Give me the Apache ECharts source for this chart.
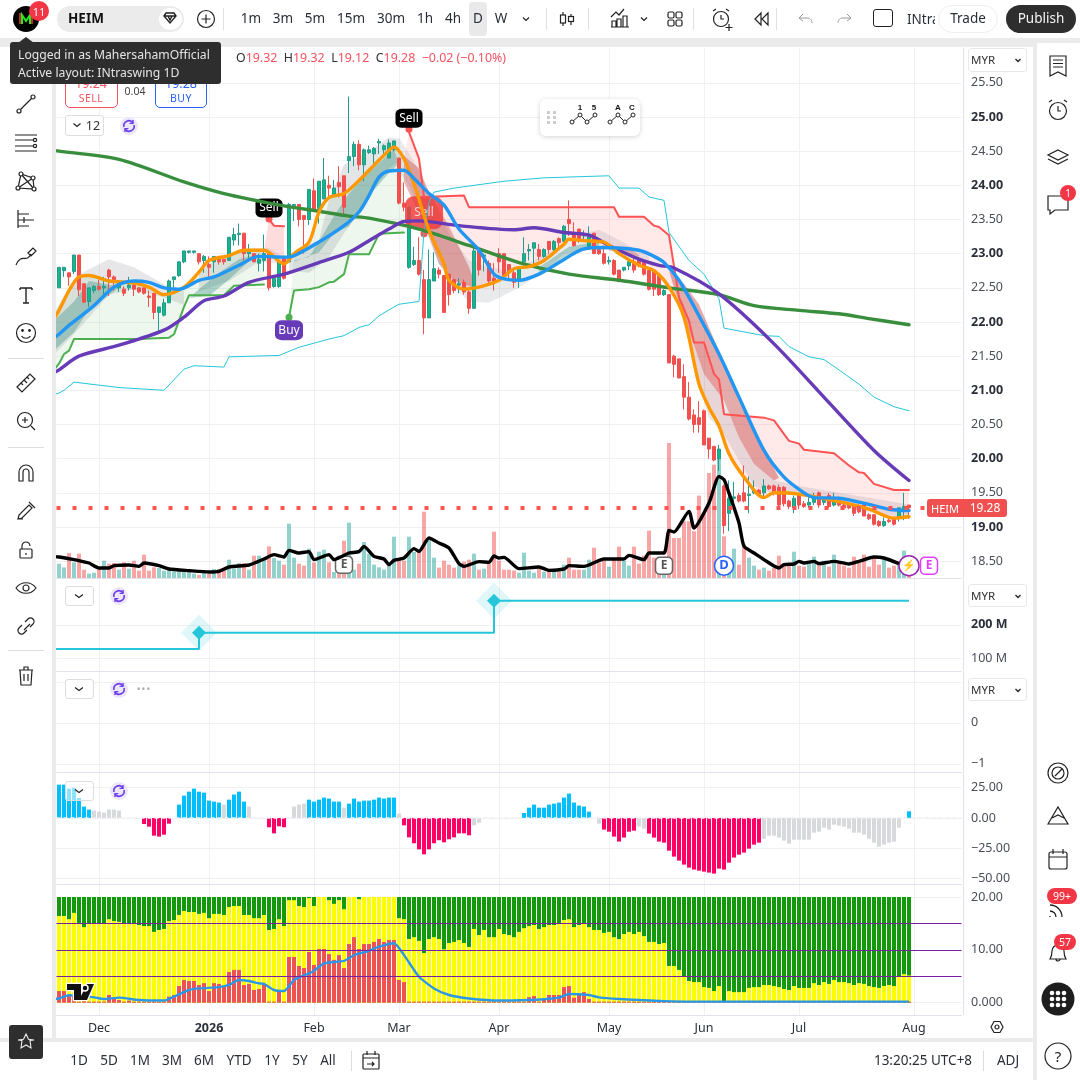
<!DOCTYPE html>
<html><head><meta charset="utf-8">
<script src="https://cdn.jsdelivr.net/npm/echarts@6/dist/echarts.min.js"></script>
<style>
html,body{margin:0;padding:0;width:1080px;height:1080px;overflow:hidden;background:#ebebeb;font-family:"Noto Sans",sans-serif;color:#1f2430}
.p{position:absolute;background:#fff}
#chart{position:absolute;left:0;top:0;width:1080px;height:1080px;z-index:1}
#ui{position:absolute;left:0;top:0;width:1080px;height:1080px;z-index:2}
.t{position:absolute;transform:translate(-50%,-50%);white-space:nowrap;line-height:1}
.l{position:absolute;transform:translateY(-50%);white-space:nowrap;line-height:1}
.b{position:absolute;box-sizing:border-box}
svg{position:absolute;overflow:visible}
</style></head><body>
<div class="p" style="left:0;top:0;width:1080px;height:38px"></div>
<div class="p" style="left:0;top:47px;width:52px;height:991px"></div>
<div class="p" style="left:56px;top:47px;width:977px;height:991px"></div>
<div class="p" style="left:1037px;top:43px;width:43px;height:1037px"></div>
<div class="p" style="left:0;top:1042px;width:1033px;height:38px"></div>
<div id="chart"></div><div id="ui"></div>
<script>
// ---------- axis ticks ----------
const barCount = 181;
const monthTicks = {8:'Dec',30:'2026',51:'Feb',68:'Mar',88:'Apr',110:'May',129:'Jun',148:'Jul',171:'Aug'};
const priceTicks = [18.5,19,19.5,20,20.5,21,21.5,22,22.5,23,23.5,24,24.5,25,25.5];
const panel2Ticks = [100,200];
const panel3Ticks = [-1,0,1];
const panel4Ticks = [-50,-25,0,25];
const panel5Ticks = [0,10,20];
const panel5Levels = [5,10,15];
const currentPrice = 19.28;

// ---------- daily candles: open, high, low, close ----------
const ohlc = [
[22.50,22.80,22.50,22.80],[22.75,22.80,22.66,22.80],[22.72,22.72,22.53,22.66],[22.74,22.98,22.70,22.98],[22.98,22.98,22.38,22.47],
[22.56,22.56,22.28,22.29],[22.30,22.50,22.22,22.50],[22.46,22.54,22.42,22.52],[22.52,22.62,22.46,22.48],[22.50,22.66,22.38,22.52],
[22.76,22.78,22.38,22.66],[22.66,22.68,22.46,22.58],[22.50,22.60,22.44,22.58],[22.48,22.52,22.38,22.42],[22.50,22.66,22.46,22.54],
[22.54,22.58,22.38,22.48],[22.50,22.50,22.42,22.44],[22.50,22.50,22.40,22.42],[22.38,22.46,22.22,22.36],[22.42,22.42,22.04,22.14],
[22.14,22.22,21.86,22.22],[22.10,22.34,22.08,22.28],[22.28,22.62,22.28,22.60],[22.62,22.66,22.46,22.66],[22.68,22.88,22.66,22.88],
[22.88,23.04,22.86,23.04],[23.02,23.04,23.00,23.04],[23.02,23.04,23.00,23.04],[23.00,23.00,22.84,22.88],[22.90,22.98,22.72,22.96],
[22.84,22.96,22.66,22.80],[22.88,22.96,22.72,22.96],[22.96,22.96,22.84,22.88],[22.92,22.92,22.84,22.88],[22.90,23.24,22.90,23.24],
[23.20,23.38,23.12,23.28],[23.28,23.44,23.12,23.30],[23.30,23.30,22.90,23.00],[23.00,23.14,22.92,23.04],[23.00,23.00,22.88,22.88],
[22.86,23.00,22.74,22.92],[22.90,23.28,22.74,23.00],[23.00,23.00,22.46,22.50],[22.52,22.66,22.50,22.64],[22.52,22.88,22.50,22.88],
[22.96,22.96,22.62,22.64],[22.88,23.74,22.88,23.72],[23.70,23.72,23.48,23.72],[23.72,23.72,23.40,23.50],[23.56,23.56,23.00,23.50],
[23.50,23.94,23.42,23.94],[23.92,24.10,23.62,23.64],[23.66,24.06,23.44,24.06],[23.80,24.40,23.80,24.08],[24.00,24.14,23.84,23.96],
[23.84,24.08,23.84,23.96],[24.04,24.28,23.82,23.98],[24.14,24.14,23.58,23.68],[24.36,25.30,24.18,24.42],[24.42,24.64,24.28,24.60],
[24.60,24.66,24.22,24.30],[24.30,24.54,24.06,24.52],[24.48,24.58,24.46,24.52],[24.46,24.56,24.32,24.54],[24.62,24.68,24.46,24.64],
[24.52,24.60,24.46,24.58],[24.40,24.67,24.40,24.62],[24.52,24.65,24.50,24.65],[24.40,24.40,23.72,23.74],[23.74,24.04,23.62,23.68],
[22.80,23.68,22.78,23.68],[22.84,23.10,22.82,22.90],[22.90,23.24,22.68,22.70],[22.62,22.76,21.82,22.06],[22.06,23.06,22.06,22.62],
[22.60,23.02,22.60,22.78],[22.76,22.80,22.64,22.70],[22.68,22.68,22.14,22.14],[22.70,22.70,22.24,22.40],[22.62,22.62,22.42,22.46],
[22.54,22.64,22.42,22.56],[22.58,22.62,22.40,22.44],[22.44,22.50,22.12,22.20],[22.20,23.14,22.20,23.04],[23.04,23.10,22.68,22.76],
[22.96,23.00,22.74,22.98],[22.86,22.90,22.56,22.60],[22.64,22.86,22.46,22.60],[23.00,23.08,22.72,22.88],[23.00,23.00,22.66,22.68],
[22.84,22.84,22.62,22.72],[22.72,22.76,22.50,22.58],[22.60,22.82,22.50,22.80],[22.88,23.24,22.84,23.00],[23.04,23.14,22.90,23.06],
[23.08,23.16,22.84,23.16],[23.06,23.14,22.90,22.96],[22.96,23.08,22.94,23.06],[23.18,23.18,23.00,23.06],[23.06,23.20,23.04,23.18],
[23.22,23.24,23.08,23.16],[23.18,23.42,23.12,23.40],[23.50,23.78,23.26,23.44],[23.30,23.46,23.10,23.12],[23.36,23.36,23.16,23.20],
[23.26,23.34,23.20,23.28],[23.10,23.40,23.08,23.28],[23.30,23.30,23.00,23.00],[23.06,23.06,22.98,23.00],[23.00,23.12,22.84,22.86],
[22.88,22.96,22.84,22.90],[22.90,22.92,22.68,22.70],[22.76,22.76,22.58,22.60],[22.76,22.80,22.74,22.80],[22.82,22.92,22.76,22.88],
[22.88,22.96,22.72,22.76],[22.92,22.94,22.80,22.82],[22.88,22.90,22.68,22.70],[22.76,22.76,22.46,22.48],[22.76,22.76,22.38,22.48],
[22.68,22.68,22.38,22.40],[22.40,22.48,22.38,22.46],[22.40,22.40,21.40,21.40],[21.50,21.52,21.19,21.38],[21.46,21.46,21.18,21.18],
[21.20,21.38,20.72,20.90],[20.90,21.12,20.56,20.58],[20.64,20.72,20.38,20.50],[20.60,20.84,20.38,20.50],[20.70,20.72,20.20,20.20],
[20.30,20.30,20.00,20.14],[20.18,20.18,19.96,19.98],[20.00,20.20,19.82,20.14],[19.60,19.62,18.90,19.02],[19.20,19.68,18.94,19.42],
[19.42,19.66,19.36,19.44],[19.46,19.50,19.36,19.38],[19.50,19.90,19.36,19.38],[19.46,19.74,19.20,19.48],[19.50,19.68,19.48,19.54],
[19.54,19.56,19.44,19.48],[19.50,19.70,19.44,19.60],[19.60,19.62,19.54,19.56],[19.60,19.62,19.46,19.50],[19.58,19.62,19.28,19.32],
[19.58,19.60,19.30,19.34],[19.38,19.40,19.26,19.30],[19.28,19.46,19.20,19.42],[19.48,19.50,19.26,19.32],[19.34,19.38,19.28,19.30],
[19.32,19.44,19.28,19.36],[19.36,19.50,19.32,19.44],[19.50,19.52,19.28,19.32],[19.36,19.44,19.32,19.40],[19.46,19.50,19.28,19.30],
[19.32,19.50,19.30,19.42],[19.42,19.44,19.30,19.32],[19.32,19.34,19.26,19.28],[19.34,19.36,19.26,19.28],[19.32,19.34,19.16,19.20],
[19.30,19.34,19.20,19.22],[19.32,19.34,19.16,19.16],[19.18,19.20,19.10,19.12],[19.18,19.18,19.02,19.04],[19.08,19.10,19.00,19.02],
[19.02,19.14,19.00,19.08],[19.10,19.12,19.06,19.08],[19.12,19.14,19.02,19.04],[19.14,19.28,19.08,19.28],[19.24,19.50,19.10,19.30],
[19.32,19.32,19.12,19.28]];

// ---------- volume and its average (arbitrary units) ----------
const volume = [43,32,75,47,73,25,13,16,27,52,43,45,25,47,28,52,22,70,22,32,30,22,25,20,20,25,25,13,9,15,13,27,27,25,55,29,45,45,25,67,67,57,95,60,52,40,163,61,43,37,88,47,79,85,47,18,15,112,166,25,43,108,73,40,32,25,40,124,52,52,124,78,78,199,115,61,31,52,40,31,37,49,55,73,25,28,43,139,52,25,25,22,16,76,22,16,27,19,19,19,19,40,61,25,25,25,55,91,46,52,34,58,94,52,37,94,43,67,142,61,46,15,405,120,120,170,170,140,247,195,315,340,384,125,31,88,40,100,61,37,25,31,22,31,67,43,37,79,37,34,46,64,46,52,34,70,43,37,31,64,46,70,34,61,40,61,31,37,43,82,7];
const volumeAverage = [[-1,64],[0,63],[3,55],[4,52],[6,45],[8,30],[10,30],[11,37],[14,39],[16,35],[17,45],[20,37],[22,27],[26,22],[30,18],[32,20],[34,33],[38,39],[41,57],[43,70],[45,63],[46,83],[48,75],[50,79],[51,55],[54,70],[55,55],[58,75],[60,79],[61,95],[63,65],[65,57],[66,40],[67,53],[69,60],[71,88],[72,80],[74,120],[76,105],[78,90],[80,43],[81,35],[84,49],[86,47],[87,66],[88,60],[89,62],[92,28],[96,33],[98,23],[101,27],[102,37],[105,35],[109,57],[113,57],[114,68],[117,55],[118,75],[121,75],[122,143],[123,138],[126,200],[127,150],[130,225],[132,305],[133,295],[134,255],[136,165],[137,95],[139,75],[141,55],[144,30],[145,40],[147,42],[148,50],[149,45],[151,50],[152,43],[155,50],[158,42],[160,50],[163,63],[165,60],[168,43]];

// ---------- moving averages, price units ----------
const maLong = [[-1,24.51],[0,24.50],[12,24.38],[25,24.05],[33,23.88],[45,23.70],[52,23.62],[58,23.55],[62,23.52],[72,23.36],[82,23.12],[92,22.87],[102,22.70],[112,22.61],[122,22.50],[132,22.40],[139,22.24],[148,22.17],[156,22.12],[162,22.05],[170,21.96]];
const maMid = [[-1,21.26],[0,21.30],[4,21.50],[12,21.66],[21,21.88],[25,22.07],[29,22.31],[33,22.38],[38,22.58],[45,22.70],[52,22.87],[58,23.02],[62,23.19],[66,23.36],[69,23.47],[72,23.48],[80,23.41],[91,23.35],[95,23.38],[101,23.31],[106,23.27],[110,23.12],[116,22.92],[120,22.83],[123,22.79],[132,22.41],[143,21.68],[154,20.82],[163,20.12],[170,19.68]];
const emaFast = [[-1,22.05],[0,22.17],[2,22.46],[4,22.66],[6,22.68],[10,22.60],[15,22.57],[18,22.51],[21,22.40],[25,22.51],[28,22.73],[30,22.90],[34,22.97],[37,23.05],[41,23.05],[45,22.85],[47,23.00],[50,23.17],[52,23.61],[54,23.82],[57,23.88],[60,24.07],[62,24.22],[65,24.44],[67,24.56],[69,24.39],[71,24.02],[74,23.34],[77,22.85],[78,22.61],[81,22.48],[84,22.51],[88,22.61],[91,22.78],[94,22.81],[97,22.90],[101,23.14],[102,23.21],[105,23.19],[109,23.17],[112,23.00],[116,22.83],[119,22.75],[122,22.51],[125,22.07],[128,21.09],[130,20.75],[132,20.48],[134,20.07],[137,19.73],[141,19.43],[143,19.50],[148,19.48],[156,19.37],[162,19.26],[167,19.13],[170,19.15]];
const emaSlow = [[-1,21.77],[0,21.82],[2,21.95],[7,22.24],[11,22.51],[15,22.60],[18,22.58],[21,22.50],[24,22.48],[28,22.61],[31,22.66],[36,22.83],[40,22.96],[45,22.95],[47,22.97],[52,23.17],[57,23.41],[60,23.61],[62,23.85],[64,24.12],[66,24.21],[69,24.22],[71,24.10],[74,23.88],[77,23.71],[80,23.36],[84,23.05],[87,22.70],[89,22.63],[92,22.61],[96,22.70],[100,22.87],[105,23.07],[109,23.09],[116,23.05],[119,22.96],[121,22.87],[124,22.61],[128,22.09],[132,21.53],[136,20.90],[141,20.12],[145,19.73],[149,19.50],[151,19.43],[156,19.42],[162,19.33],[166,19.26],[170,19.24]];
const channelLine = [[-1,20.94],[0,20.96],[1,21.00],[3,21.12],[12,21.04],[21,21.00],[25,21.31],[27,21.36],[33,21.34],[34,21.49],[44,21.51],[48,21.63],[54,21.75],[57,21.80],[60,21.92],[62,21.96],[64,22.09],[67,22.22],[68,22.26],[72,22.30],[73,23.34],[74,23.75],[75,23.90],[79,23.96],[89,24.06],[97,24.11],[110,24.14],[112,23.96],[116,23.96],[118,23.83],[121,23.78],[122,23.31],[126,22.90],[129,22.70],[132,22.34],[133,21.91],[141,21.80],[144,21.79],[146,21.64],[150,21.49],[153,21.45],[155,21.35],[160,21.09],[163,20.90],[167,20.76],[170,20.70]];

// ---------- trailing stop segments ----------
const trailUpA = [[-1,21.30],[0,21.39],[1,21.53],[2,21.58],[3,21.75],[16,21.75],[22,21.77],[23,21.82],[25,22.22],[26,22.39],[33,22.39],[35,22.53],[41,22.55]];
const trailUpB = [[46,22.07],[47,22.46],[50,22.48],[52,22.51],[54,22.58],[55,22.59],[57,22.70],[58,22.99],[62,22.99],[64,23.29],[69,23.31]];
const trailDownA = [[42,23.50],[43,23.41],[45,23.40]];
const trailDownB = [[70,24.78],[72,24.39],[73,23.83],[81,23.85],[82,23.68],[111,23.68],[112,23.54],[117,23.54],[119,23.41],[120,23.39],[122,23.27],[124,22.36],[126,22.02],[127,21.70],[129,21.70],[131,21.24],[132,21.16],[133,20.65],[141,20.60],[143,20.56],[146,20.26],[148,20.22],[149,20.13],[155,20.08],[158,19.90],[160,19.80],[161,19.79],[163,19.63],[167,19.54],[170,19.54]];

// ---------- ribbons, upper and lower edges ----------
const haloAUp=[[-1,22.15],[4,22.70],[10,22.92],[15,22.80],[21,22.55],[25,22.45]], haloALow=[[-1,21.52],[4,21.90],[10,22.40],[15,22.48],[21,22.36],[25,22.25]];
const haloBUp=[[28,22.70],[30,22.85],[38,23.08],[42,23.08],[46,22.90]], haloBLow=[[28,22.45],[34,22.60],[40,22.88],[46,22.85]];
const haloCUp=[[46,23.00],[52,23.20],[54,23.78],[57,24.30],[62,24.50],[66,24.70],[68,24.68]], haloCLow=[[46,22.75],[50,22.72],[54,22.95],[57,23.30],[60,23.60],[62,23.85],[66,24.25],[68,24.35]];
const haloDUp=[[68,24.70],[71,24.35],[74,23.90],[78,23.30],[82,22.90],[86,22.80],[90,22.75],[95,22.90],[100,23.10],[105,23.30],[108,23.35],[112,23.20],[118,22.95]], haloDLow=[[68,24.20],[70,24.00],[73,23.40],[76,22.85],[79,22.50],[82,22.30],[86,22.28],[92,22.50],[97,22.75],[101,23.00],[105,23.05],[110,23.05],[118,22.85]];
const haloEUp=[[123,22.50],[126,21.87],[129,21.24],[133,20.85],[136,20.31],[139,19.92],[143,19.68],[148,19.60],[156,19.50],[170,19.33]], haloELow=[[123,22.40],[125,22.26],[127,21.32],[130,20.60],[133,20.36],[136,19.97],[139,19.60],[143,19.48],[148,19.47],[156,19.31],[162,19.21],[170,19.14]];
const tealAUp=[[-1,22.02],[3,22.30],[6,22.60],[12,22.52]], tealALow=[[-1,21.58],[3,21.85],[6,22.18],[12,22.50]];
const tealBUp=[[28,22.48],[32,22.72],[36,22.92],[39,22.98]], tealBLow=[[26,22.35],[30,22.38],[34,22.62],[39,22.96]];
const tealCUp=[[47,22.90],[50,22.95],[52,23.18],[55,23.55],[58,23.88],[62,24.20],[67,24.52]], tealCLow=[[47,22.88],[52,23.02],[55,23.30],[58,23.40],[62,23.85],[66,24.18],[68,24.32]];
const tealDUp=[[96,22.80],[102,23.10],[108,23.18]], tealDLow=[[96,22.70],[102,22.98],[108,23.10]];
const rustAUp=[[69,24.43],[72,24.25],[74,23.90],[78,23.40],[80,23.10],[82,22.80],[83,22.60]], rustALow=[[69,24.05],[72,23.58],[74,23.25],[76,22.85],[79,22.60],[83,22.50]];
const rustBUp=[[110,23.10],[114,23.08],[116,22.98]], rustBLow=[[110,23.05],[116,22.95]];
const rustCUp=[[122,22.75],[125,22.56],[128,22.26],[132,21.58],[136,20.90],[141,20.12],[144,19.72]], rustCLow=[[123,22.50],[126,21.87],[129,21.24],[133,20.85],[136,20.31],[139,19.92],[143,19.68]];

// ---------- panel 2: step level (millions) ----------
const stepLevel = [[-1,127],[28,176],[87,273],[170,273]];
const stepTurns = [[28,176],[87,273]];

// ---------- panel 4: momentum histogram ----------
const momentum = [27.5,27.5,24.2,24.8,16.5,9.4,6.9,6.1,5.2,4.4,6.9,6.9,6.1,0,0,0,0,-5.0,-7.2,-14.6,-15.4,-13.8,-4.7,0,
11.0,18.4,21.7,24.2,21.7,20.9,14.3,13.5,12.7,11.0,15.1,19.3,21.7,13.5,9.4,0,0,0,
-7.7,-12.7,-6.9,-7.7,0,
9.4,11.0,11.8,15.1,13.5,15.1,16.8,16.0,13.5,13.5,8.5,11.8,16.0,13.5,14.3,14.3,15.1,16.8,16.0,16.8,16.8,3.6,
-6.1,-16.0,-20.9,-25.9,-30.0,-25.9,-20.9,-18.4,-20.1,-17.6,-16.0,-12.7,-12.7,-14.3,-6.1,-3.9,
0,0,0,0,0,0,0,0,
4.1,8.5,11.0,8.5,8.5,11.0,11.8,12.7,16.8,20.1,12.7,10.2,9.4,5.2,0,
-4.7,-9.6,-11.3,-15.4,-19.5,-16.2,-11.3,-10.5,-7.2,-8.8,-12.9,-16.2,-19.5,-20.4,-27.0,-31.9,-35.2,-38.5,-41.0,-42.6,-43.5,-44.3,-45.1,-45.9,-41.8,-42.6,-36.9,-32.7,-30.3,-28.6,-25.3,-22.0,-20.4,
-17.1,-14.6,-14.6,-16.2,-18.7,-21.2,-17.9,-17.9,-17.9,-17.9,-12.1,-11.3,-8.0,-9.6,-5.5,-6.3,-7.2,-8.8,-12.1,-12.1,-13.8,-17.1,-20.4,-23.7,-22.0,-20.4,-19.5,-8.0,0,5.5];
const momentumWeak = [7,8,9,10,11,12,33,38,47,48,49,57,68,83,84,108,116,117,141,142,143,144,145,146,147,148,149,150,151,152,153,154,155,156,157,158,159,160,161,162,163,164,165,166,167,168];

// ---------- panel 5: stacked zones and oscillator line ----------
const zoneYellowTop = [16.4,16.4,15.8,17.0,15.0,14.3,15.0,15.0,15.0,15.0,15.8,15.45,15.3,15.0,15.0,15.0,14.7,14.5,14.5,13.4,13.75,13.95,15.45,15.65,16.6,17.35,17.15,17.15,16.8,17.0,16.0,16.8,16.8,16.6,18.1,18.3,18.3,16.6,16.6,16.0,16.0,16.6,13.75,13.95,15.8,14.5,19.4,19.4,18.3,18.1,19.8,18.3,20,20,19.4,18.7,19.4,17.7,20,20,19.6,20,20,20,20,20,20,20,16.0,15.8,12.05,12.4,11.7,9.4,12.05,12.4,12.05,10.1,11.3,11.5,11.85,11.3,10.55,13.95,12.8,13.75,12.4,12.4,13.95,13.0,12.8,12.4,13.4,14.1,14.5,14.7,13.95,14.3,14.7,14.7,15.0,15.65,15.8,14.3,14.7,15.0,14.3,13.75,13.75,13.2,13.4,12.4,12.05,13.0,13.4,13.0,13.4,12.6,11.5,11.5,11.1,11.3,6.95,6.95,6.2,5.05,4.1,3.9,3.9,2.95,2.8,2.2,3.15,0.3,2.2,2.0,2.0,2.0,2.8,2.95,2.95,3.35,3.35,3.15,2.95,2.6,2.4,3.15,2.8,2.8,2.8,3.7,3.35,3.9,3.55,4.3,3.9,3.9,3.7,3.35,3.7,3.55,3.15,2.95,2.8,3.15,3.35,3.15,5.05,5.4,5.15];
const zoneRedTop = [2.2,2.2,1.45,1.25,.2,.5,.2,.2,.2,.2,1.45,.8,.5,.2,.4,.2,.2,.2,.2,.2,.2,.2,1.15,1.45,3.15,4.3,4.1,4.1,3.35,3.7,2.2,3.7,3.55,3.15,5.8,6.2,6.2,3.35,3.55,2.4,2.6,3.35,.2,.2,2.2,.2,8.65,8.65,6.95,6.55,9.6,7.15,10.15,10.15,9.2,8.1,9.0,6.55,11.1,12.4,10.15,11.1,11.1,11.5,12.05,11.5,11.85,11.85,4.3,3.9,.2,.2,.2,.2,.2,.2,.2,.2,.2,.2,.2,.2,.2,.2,.2,.2,.2,.2,.2,.2,.2,.2,.2,.2,1.05,1.25,.2,.5,1.45,1.45,1.45,2.95,3.15,.95,1.45,2.0,.7,.2,.2,.2,.2,.2,.2,.2,.2,.2,.2,.2,.2,.2,.2,.2,.2,.2,.2,.2,.2,.2,.2,.2,.2,.2,.2,.2,.2,.2,.2,.2,.2,.2,.2,.2,.2,.2,.2,.2,.2,.2,.2,.2,.2,.2,.2,.2,.2,.2,.2,.2,.2,.2,.2,.2,.2,.2,.2,.2,.2,.2,.2,.2,.2];
const zoneGreenTop = ohlc.map(() => 20);
const oscillator = [[-1,.75],[0,.8],[2,1.4],[7,1.0],[9,.7],[12,.95],[16,.5],[21,.4],[23,1.15],[26,2.4],[28,2.7],[32,2.95],[34,3.35],[36,4.3],[38,4.1],[40,3.65],[41,3.55],[43,2.4],[45,2.2],[47,4.3],[50,5.55],[51,6.05],[53,7.45],[57,7.9],[59,9.0],[62,9.8],[64,10.6],[67,11.25],[69,9.0],[72,4.9],[75,2.7],[78,1.45],[82,.8],[88,.4],[94,.5],[97,.65],[100,.95],[102,1.65],[106,1.45],[108,1.0],[112,.7],[121,.3],[130,.2],[170,.2]];

// ---------- signal markers ----------
const sellBlack = [[42,23.507],[70,24.82]];
const sellRed = [[73,23.29]];
const buyMark = [[46,22.07]];
const earningsMarks = [[57,40],[121,37]];
const dividendMarks = [[133,37]];
const newsMarks = [[170,37]];
const nextEarnings = [[174,37]];

// ---------- chart ----------
const FONT = '"Noto Sans",sans-serif';
const categories = Array.from({length: barCount}, (_, i) => String(i));
const GRIDC = '#f0f1f4', EDGE = '#e0e3eb';
const grids = [[48,530],[579,92],[672,100],[773,111],[885,130]].map(g => ({left:56.5, width:905, top:g[0], height:g[1]}));
const xAxes = grids.map((g, k) => ({
  type:'category', gridIndex:k, data:categories, boundaryGap:true,
  axisLine:{show:true, onZero:false, lineStyle:{color:EDGE}}, axisTick:{show:false},
  splitLine:{show:true, alignWithLabel:true, interval:(i)=> i in monthTicks, lineStyle:{color:GRIDC}},
  axisLabel: k === 4 ? {show:true, interval:(i)=> i in monthTicks, margin:7, color:'#2a2e39', fontSize:12.5, fontFamily:FONT,
    formatter:(v)=> monthTicks[v]==='2026' ? '{b|2026}' : (monthTicks[v]||''), rich:{b:{fontWeight:'bold',fontSize:12.5,color:'#2a2e39',fontFamily:FONT}}} : {show:false}
}));
function yAxis(k, min, max, ticks, fmt){
  return {type:'value', gridIndex:k, position:'right', offset:1.5, min, max, scale:true,
    axisLine:{show:true, lineStyle:{color:EDGE}}, axisTick:{show:false, customValues:ticks},
    axisLabel:{show:true, customValues:ticks, formatter:fmt, margin:8, color:'#4a4e59', fontSize:12.5, fontFamily:FONT, hideOverlap:false, showMinLabel:true, showMaxLabel:true,
      rich:{b:{fontWeight:'bold',fontSize:12.5,color:'#2a2e39',fontFamily:FONT}}},
    splitLine:{show:true, lineStyle:{color:GRIDC}}};
}
const minus = s => s.replace('-', '\u2212');
const yAxes = [
  yAxis(0, 18.253, 26.01, priceTicks, v => v % 1 === 0 ? '{b|' + v.toFixed(2) + '}' : v.toFixed(2)),
  yAxis(1, 60.6, 339, panel2Ticks, v => v === 200 ? '{b|200 M}' : v + ' M'),
  yAxis(2, -1.2, 1.24, panel3Ticks, v => v === 1 ? '' : minus(String(v))),
  yAxis(3, -54.5, 37.1, panel4Ticks, v => minus(v.toFixed(2))),
  yAxis(4, -2.33, 22.27, panel5Ticks, v => v === 0 ? '0.000' : v.toFixed(2)),
  {type:'value', gridIndex:0, min:0, max:1590, show:false}
];
const between = (k, a, b) => k.filter(p => p[0] >= a && p[0] <= b);
function band(up, low, color){
  return {type:'custom', xAxisIndex:0, yAxisIndex:0, silent:true, clip:true, data:[[Math.max(up[0][0],0), up[0][1]]],
    renderItem:(params, api) => ({type:'polygon',
      shape:{points: up.map(p => api.coord(p)).concat(low.slice().reverse().map(p => api.coord(p)))},
      style:{fill:color, stroke:'none'}})};
}
function line(data, color, width, extra){
  return Object.assign({type:'line', xAxisIndex:0, yAxisIndex:0, data, showSymbol:false, symbol:'none', silent:true,
    lineStyle:{color, width, cap:'round', join:'round'}, itemStyle:{color}}, extra||{});
}
function mark(data, yIdx, symbol, size, fill, text, textColor, opt){
  opt = opt || {};
  return {type:'scatter', xAxisIndex:0, yAxisIndex:yIdx, data, symbol, symbolSize:size, symbolOffset:opt.offset||[0,0], silent:true,
    itemStyle:{color:fill, opacity:1, borderColor:opt.border, borderWidth:opt.border?1.5:0},
    label:{show:true, position:'inside', formatter:text, color:textColor, fontSize:opt.fs||12, fontWeight:opt.fw||'normal', fontFamily:FONT}};
}
const MA_SMOOTH = {smooth:0.3};
const weak = new Set(momentumWeak);
const series = [
  // volume
  {type:'bar', xAxisIndex:0, yAxisIndex:5, barWidth:4, silent:true,
   data: volume.map((v,i) => ({value:v, itemStyle:{color: ohlc[i][3] >= ohlc[i][0] ? 'rgba(38,166,154,.5)' : 'rgba(242,75,75,.5)'}}))},
  // trend fills
  band(trailUpA, between(emaFast,-1,41), 'rgba(76,175,80,.10)'),
  band(trailUpB, between(emaFast,46,69), 'rgba(76,175,80,.10)'),
  band(trailDownA, between(emaFast,41,45), 'rgba(255,82,82,.20)'),
  band(trailDownB, between(emaFast,69,170), 'rgba(255,82,82,.13)'),
  // ribbons
  band(haloAUp, haloALow, 'rgba(120,123,134,.18)'),
  band(haloBUp, haloBLow, 'rgba(120,123,134,.18)'),
  band(haloCUp, haloCLow, 'rgba(120,123,134,.20)'),
  band(haloDUp, haloDLow, 'rgba(120,123,134,.16)'),
  band(haloEUp, haloELow, 'rgba(120,123,134,.18)'),
  band(tealAUp, tealALow, 'rgba(38,135,120,.33)'),
  band(tealBUp, tealBLow, 'rgba(38,135,120,.33)'),
  band(tealCUp, tealCLow, 'rgba(38,135,120,.33)'),
  band(tealDUp, tealDLow, 'rgba(38,135,120,.33)'),
  band(rustAUp, rustALow, 'rgba(190,55,55,.36)'),
  band(rustBUp, rustBLow, 'rgba(190,55,55,.28)'),
  band(rustCUp, rustCLow, 'rgba(190,55,55,.42)'),
  // trailing stops and channel
  line(channelLine, '#26c6da', 1),
  line(trailUpA, '#4caf50', 2),
  line(trailUpB, '#4caf50', 2),
  line(trailDownA, '#ff5252', 2),
  line(trailDownB, '#ff5252', 2),
  // candles
  {type:'candlestick', xAxisIndex:0, yAxisIndex:0, barWidth:3, silent:true, progressive:0,
   data: ohlc.map(r => [r[0], r[3], r[2], r[1]]),
   itemStyle:{color:'#12b886', color0:'#f2504f', borderColor:'#26998f', borderColor0:'#f2504f', borderWidth:1},
   markLine:{silent:true, symbol:'none', animation:false, label:{show:false},
     lineStyle:{color:'#ff5252', width:4, type:[4,12]}, data:[{yAxis:currentPrice}]}},
  // averages
  line(maLong, '#388e3c', 3.4, MA_SMOOTH),
  line(maMid, '#673ab7', 3.4, MA_SMOOTH),
  line(emaFast, '#ff9800', 3.4, MA_SMOOTH),
  line(emaSlow, '#2196f3', 3.4, MA_SMOOTH),
  {type:'line', xAxisIndex:0, yAxisIndex:5, data:volumeAverage, symbol:'none', silent:true, lineStyle:{color:'#000', width:3.4, join:'round'}, smooth:0.2},
  // signal labels
  {type:'scatter', xAxisIndex:0, yAxisIndex:0, data:sellBlack.concat(sellRed), symbol:'circle', symbolSize:7, silent:true, itemStyle:{color:'#ff5252', opacity:1}},
  {type:'scatter', xAxisIndex:0, yAxisIndex:0, data:buyMark, symbol:'circle', symbolSize:7, silent:true, itemStyle:{color:'#4caf50', opacity:1}},
  mark(sellBlack, 0, 'roundRect', [27,19], '#000', 'Sell', '#fff', {offset:[0,-11]}),
  mark(sellRed, 0, 'roundRect', [38,33], 'rgba(240,62,62,.85)', 'Sell', 'rgba(255,255,255,.75)', {offset:[0,-21]}),
  mark(buyMark, 0, 'roundRect', [28,20], '#673ab7', 'Buy', '#fff', {offset:[0,13]}),
  mark(earningsMarks, 5, 'roundRect', [17,17], '#fff', 'E', '#555', {border:'#666', fw:'bold'}),
  mark(dividendMarks, 5, 'circle', [19,19], '#fff', 'D', '#2962ff', {border:'#2962ff', fw:'bold', fs:13}),
  mark(newsMarks, 5, 'circle', [20,20], '#fff', '\u26A1', '#9c27b0', {border:'#9c27b0', fs:11}),
  mark(nextEarnings, 5, 'roundRect', [17,17], '#fff', 'E', '#e040fb', {border:'#e040fb', fw:'bold'}),
  // panel 2
  {type:'line', xAxisIndex:1, yAxisIndex:1, data:stepLevel, step:'end', symbol:'none', silent:true, lineStyle:{color:'#26c6da', width:2}},
  {type:'scatter', xAxisIndex:1, yAxisIndex:1, data:stepTurns, symbol:'diamond', symbolSize:36, silent:true, itemStyle:{color:'rgba(38,198,218,.15)', opacity:1}},
  {type:'scatter', xAxisIndex:1, yAxisIndex:1, data:stepTurns, symbol:'diamond', symbolSize:14, silent:true, itemStyle:{color:'#26c6da', opacity:1}},
  // panel 4
  {type:'bar', xAxisIndex:3, yAxisIndex:3, barWidth:4, silent:true,
   data: momentum.map((v,i) => ({value:v, itemStyle:{color: weak.has(i) ? '#d8d9dd' : (v > 0 ? '#00bfff' : '#ff0066')}})),
   markLine:{silent:true, symbol:'none', animation:false, label:{show:false}, lineStyle:{color:'#f0f0f3', type:[4,3], width:1.5}, data:[{yAxis:0}]}},
  // panel 5
  {type:'bar', xAxisIndex:4, yAxisIndex:4, barWidth:4, barGap:'-100%', silent:true, data:zoneGreenTop, itemStyle:{color:'#129a0a'}},
  {type:'bar', xAxisIndex:4, yAxisIndex:4, barWidth:4, barGap:'-100%', silent:true, data:zoneYellowTop, itemStyle:{color:'#ffff00'}},
  {type:'bar', xAxisIndex:4, yAxisIndex:4, barWidth:4, barGap:'-100%', silent:true, data:zoneRedTop, itemStyle:{color:'#ef5350'}},
  {type:'line', xAxisIndex:4, yAxisIndex:4, data:oscillator, symbol:'none', silent:true, lineStyle:{color:'#2b97e8', width:2.4}, smooth:0.2,
   markLine:{silent:true, symbol:'none', animation:false, label:{show:false}, lineStyle:{color:'#7b1fa2', type:'solid', width:1.2}, data:panel5Levels.map(v => ({yAxis:v}))}}
];
const chart = echarts.init(document.getElementById('chart'), null, {renderer:'canvas', width:1080, height:1080});
chart.setOption({animation:false, backgroundColor:'transparent', grid:grids, xAxis:xAxes, yAxis:yAxes, series});

// ---------- application chrome ----------
const ui = document.getElementById('ui');
function add(html){ ui.insertAdjacentHTML('beforeend', html); }
function T(x,y,s,css){ add(`<div class="t" style="left:${x}px;top:${y}px;${css||''}">${s}</div>`); }
function L(x,y,s,css){ add(`<div class="l" style="left:${x}px;top:${y}px;${css||''}">${s}</div>`); }
function B(x,y,w,h,css,inner){ add(`<div class="b" style="left:${x}px;top:${y}px;width:${w}px;height:${h}px;${css||''}">${inner||''}</div>`); }
function I(x,y,inner,sw,col){ add(`<svg width="24" height="24" viewBox="-12 -12 24 24" style="left:${x-12}px;top:${y-12}px" fill="none" stroke="${col||'#222'}" stroke-width="${sw||1.2}">${inner}</svg>`); }

// frame strip left of the plot: lines run up to it and stop
B(52,47,4,991,'background:#ebebeb');

// top toolbar
add(`<svg width="30" height="30" viewBox="0 0 30 30" style="left:11px;top:4px"><circle cx="15" cy="15" r="13" fill="#000"/><path d="M9 20V10h2M21 20V10h-2" stroke="#f33" stroke-width="1.5" fill="none"/><path d="M11 20V11l4 6 4-6v9" stroke="#2e2" stroke-width="2" fill="none"/></svg>`);
B(29,1,20,20,'background:#f23645;border-radius:50%');
T(39,11,'11','color:#fff;font-size:11px');
B(57,6,121,26,'background:#ebebeb;border-radius:13px');
L(68,19,'HEIM','font-weight:700;font-size:13.5px;color:#111');
B(157,6,27,26,'background:#fff;border-radius:50%;border:2px solid #ebebeb');
I(170,19,'<path d="M-6-3l2-3h8l2 3-6 7zM-6-3H6M-2-3L0 1 2-3" stroke-width="1.4"/>');
I(206,19,'<circle r="8.5"/><path d="M-4.5 0h9M0-4.5v9"/>');
B(223,8,1,22,'background:#e0e0e0');
[['1m',251],['3m',283],['5m',315],['15m',351],['30m',391],['1h',425],['4h',453]].forEach(a=>T(a[1],19,a[0],'font-size:13.5px;color:#2a2e39'));
B(469,2,18,34,'background:#e9e9e9;border-radius:4px');
T(478,19,'D','font-size:13.5px;color:#2a2e39'); T(501,19,'W','font-size:13.5px;color:#2a2e39');
I(526,19,'<path d="M-3-1.5L0 1.5 3-1.5"/>');
B(546,8,1,22,'background:#e0e0e0');
I(567,19,'<path d="M-4-7v14M4-5V6"/><rect x="-6.5" y="-4" width="5" height="8" fill="#fff"/><rect x="1.5" y="-2.5" width="5" height="5" fill="#fff"/>');
B(588,8,1,22,'background:#e0e0e0');
I(620,19,'<path d="M-9-2l5-5 3 3 5-6"/><path d="M-9 8h18M-8 8V2h4v6M-3 8V-0h4v8M3 8V-3h4v11"/>');
I(644,19,'<path d="M-3-1.5L0 1.5 3-1.5"/>');
I(675,19,'<rect x="-7" y="-7" width="6" height="6" rx="1.5"/><rect x="1" y="-7" width="6" height="6" rx="1.5"/><rect x="-7" y="1" width="6" height="6" rx="1.5"/><rect x="1" y="1" width="6" height="6" rx="1.5"/>');
B(693,8,1,22,'background:#e0e0e0');
I(722,19,'<circle cx="-1" r="7.5"/><path d="M-1-4v4h3M-9-8l3-2M7-8l-3-2M7 5v7M3.5 8.5h7" />');
I(761,19,'<path d="M0-6l-6 6 6 6zM7-6l-6 6 6 6z"/>');
B(776,8,1,22,'background:#e0e0e0');
I(806,19,'<path d="M-3-5l-4 4 4 3M-7-1h8c4 0 5 3 5 5"/>',1,'#999');
I(844,19,'<path d="M3-5l4 4-4 3M7-1h-8c-4 0-5 3-5 5"/>',1,'#999');
B(873,9,20,18,'border:1.4px solid #222;border-radius:3px');
add('<div style="position:absolute;left:907px;top:11px;width:28px;overflow:hidden;font-size:13.5px;line-height:16px;color:#2a2e39">INtraswing</div>');
B(938,5,60,28,'background:#fff;border:1px solid #eee;border-radius:14px');
T(968,19,'Trade','font-size:13.5px;color:#2a2e39');
B(1006,5,70,28,'background:#2e2e2e;border-radius:14px');
T(1041,19,'Publish','font-size:13.5px;color:#f4f4f4');

// legend, tooltip, quick trade
L(236,58,'<span style="color:#2a2e39">O</span>19.32 &nbsp;<span style="color:#2a2e39">H</span>19.32 &nbsp;<span style="color:#2a2e39">L</span>19.12 &nbsp;<span style="color:#2a2e39">C</span>19.28 &nbsp;\u22120.02 (\u22120.10%)','font-size:12.4px;color:#f7525f;letter-spacing:0');
B(210,50,11,16,'background:#c9efe9;border-radius:0 8px 8px 0');
B(65,70,53,38,'background:#fff;border:1px solid #f7525f;border-radius:5px;overflow:hidden');
T(91,84,'19.24','font-size:12.5px;color:#f7525f');
T(91,98,'SELL','font-size:10.5px;color:#f7525f;letter-spacing:.5px');
T(135,91,'0.04','font-size:10.5px;color:#444');
B(155,70,52,38,'background:#fff;border:1px solid #2962ff;border-radius:5px');
T(181,84,'19.28','font-size:12.5px;color:#2962ff');
T(181,98,'BUY','font-size:10.5px;color:#2962ff;letter-spacing:.5px');
B(10,42,211,42,'background:#2e2e2e;border-radius:3px');
add('<svg width="16" height="6" style="left:18px;top:37px"><path d="M0 6L8 0l8 6z" fill="#2e2e2e"/></svg>');
L(18,55,'Logged in as MahersahamOfficial','font-size:12.2px;color:#e4e4e4');
L(18,73,'Active layout: INtraswing 1D','font-size:12.2px;color:#e4e4e4');
function refresh(x,y){
  add(`<svg width="24" height="24" viewBox="-12 -12 24 24" style="left:${x-12}px;top:${y-12}px"><circle r="9" fill="#ece6fa"/><path d="M-5 1A5 5 0 0 1 4-3M5-1A5 5 0 0 1-4 3" fill="none" stroke="#6a3de8" stroke-width="1.6"/><path d="M4-6v3.4h-3.4M-4 6V2.6h3.4" fill="none" stroke="#6a3de8" stroke-width="1.4"/></svg>`);
}
B(65,115,39,21,'background:rgba(255,255,255,.85);border:1px solid #ddd;border-radius:3px');
I(77,125,'<path d="M-3.5-1.5L0 1.5 3.5-1.5"/>');
T(93,126,'12','font-size:12.5px;color:#333');
refresh(129,126);
[[596,.85],[689,.85],[791,.55]].forEach(a=>{B(65,a[0]-10,29,20,`background:rgba(255,255,255,${a[1]});border:1px solid #ddd;border-radius:3px`);I(79,a[0],'<path d="M-4-1.5L0 1.5 4-1.5"/>');refresh(119,a[0]);});
T(144,689,'\u2022\u2022\u2022','font-size:10px;color:#aaa;letter-spacing:1px');

// drawing shortcut widget
B(540,99,100,37,'background:#fff;border-radius:6px;box-shadow:0 1px 5px rgba(0,0,0,.18)');
add('<svg width="10" height="14" style="left:547px;top:111px" fill="#ccc"><rect x="0" y="0" width="3" height="3"/><rect x="6" y="0" width="3" height="3"/><rect x="0" y="5" width="3" height="3"/><rect x="6" y="5" width="3" height="3"/><rect x="0" y="10" width="3" height="3"/><rect x="6" y="10" width="3" height="3"/></svg>');
const zig=(x)=>add(`<svg width="30" height="16" style="left:${x}px;top:111px" fill="#fff" stroke="#222" stroke-width="1"><path d="M3 11L11 4l7 7 8-7" fill="none"/><circle cx="3" cy="11" r="2"/><circle cx="11" cy="4" r="2"/><circle cx="18" cy="11" r="2"/><circle cx="26" cy="4" r="2"/></svg>`);
zig(569); zig(607);
[[580,'1'],[594,'5'],[618,'A'],[632,'C']].forEach(a=>T(a[0],108,a[1],'font-size:8px;font-weight:700;font-family:Liberation Sans;color:#111'));

// price tag and axis selectors
B(927,499,36,18,'background:#f05050;border-radius:3px 0 0 3px');
T(945,508,'HEIM','font-size:11px;color:#fff');
B(963,499,44,18,'background:#f05050;border-radius:0 3px 3px 0');
T(985,508,'19.28','font-size:12px;color:#fff');
[[48,24],[584,23],[678,23]].forEach(a=>{B(968,a[0],59,a[1],'background:#fff;border:1px solid #e8e8ec;border-radius:3px');L(971,a[0]+a[1]/2,'MYR','font-size:11.5px;color:#333');I(1018,a[0]+a[1]/2,'<path d="M-2.5-1L0 1.5 2.5-1" stroke-width="1.3"/>');});
I(997,1027,'<path d="M-6 0l3-5.5h6L6 0 3 5.5h-6z"/><circle r="2"/>');
add('<svg width="36" height="20" style="left:65px;top:982px"><path d="M2 2h14v16H9V8H2z M29 2L22 18h-8L22 2z" fill="#111" stroke="#fff" stroke-width="2.5" paint-order="stroke"/><circle cx="20" cy="6" r="3" fill="#111" stroke="#fff" stroke-width="1.5"/></svg>');

// left toolbar
I(26,104,'<path d="M-7 7L7-7"/><circle cx="-7" cy="7" r="2" fill="#fff"/><circle cx="7" cy="-7" r="2" fill="#fff"/>');
I(26,143,'<path d="M-11-8H11M-11-3H8M-11 3H8M-11 8H11"/><circle cx="9" cy="-3" r="1.6" fill="#fff"/><circle cx="9" cy="3" r="1.6" fill="#fff"/>');
I(26,181,'<path d="M-8 7L-5-7 7-3 8 8zM-5-7L8 8M-8 7L7-3"/><circle cx="-8" cy="7" r="2" fill="#fff"/><circle cx="-5" cy="-7" r="2" fill="#fff"/><circle cx="7" cy="-3" r="2" fill="#fff"/><circle cx="8" cy="8" r="2" fill="#fff"/>');
I(26,219,'<path d="M-8-9V9M-8-5H3M-8 1H8M-8 7H3M-2-2V4" />');
I(26,258,'<path d="M-10 7C-4-6 0 6 5-4M2-5l5-5 3 3-5 5z" />');
I(26,295,'<path d="M-6-7H6M0-7V8M-3 8H3M-6-7v2M6-7v2"/>',1.4);
I(26,333,'<circle r="9.5"/><circle cx="-3.5" cy="-2.5" r=".8" fill="#222"/><circle cx="3.5" cy="-2.5" r=".8" fill="#222"/><path d="M-4.5 3c2 3 7 3 9 0"/>');
B(8,358,36,1,'background:#ddd');
I(26,383,'<path d="M-9 4L4-9l5 5L-4 9zM-5 0l2 2M-2-3l3 3M1-6l2 2"/>');
I(26,421,'<circle cx="-1" cy="-1" r="7.5"/><path d="M5 5l4 4M-4-1h6M-1-4v6"/>');
B(8,447,36,1,'background:#ddd');
I(26,473,'<path d="M-7 8V-1a7 7 0 0 1 14 0V8H3V-1a3 3 0 0 0-6 0V8z"/>');
I(26,511,'<path d="M-8 8l1-4L3-6l3 3L-4 7zM3-9l6 6M-8 8h5"/>');
I(26,550,'<rect x="-6" y="-1" width="12" height="9" rx="1"/><path d="M-4-1v-3a4 4 0 0 1 8 0"/><path d="M0 3v2"/>');
I(26,588,'<path d="M-10 0C-5-7 5-7 10 0 5 7-5 7-10 0z"/><circle r="3"/>');
I(26,626,'<path d="M-2 4l6-6M-1-4l3-3a3.5 3.5 0 0 1 5 5L4 1M1 4l-3 3a3.5 3.5 0 0 1-5-5l3-3" />');
B(8,650,36,1,'background:#ddd');
I(26,676,'<path d="M-7-6H7M-2-6V-9H2V-6M-6-6L-5 9H5L6-6M-2-2V5M2-2V5"/>');
B(9,1025,34,34,'background:#2e2e2e;border-radius:3px');
I(26,1042,'<path d="M0-8L2.5-2.7 8-2 4-1.5 5 6 0 3-5 6-4-1.5-8-2-2.5-2.7z"/>',1.1,'#eee');

// right toolbar
I(1058,66,'<path d="M-8-10H8V10L0 6-8 10zM-5-6H5M-5-2.5H5M-5 1H5"/>');
I(1058,111,'<circle r="8.5"/><path d="M0-5V0h3M-9-9l3-2M9-9l-3-2"/>');
I(1058,158,'<path d="M0-8L10-3 0 2-10-3zM-10 1L0 6 10 1"/>');
I(1058,204,'<path d="M-10-8H10V6H-3L-8 10V6H-10z"/>');
B(1060,185,16,16,'background:#f23645;border-radius:50%'); T(1068,193,'1','font-size:10px;color:#fff');
I(1058,773,'<circle r="10"/><circle r="6"/><path d="M-3 3L4-4"/>');
I(1058,816,'<path d="M-10 8L0-9 10 8zM-6 2l6-3 6 3"/>');
I(1058,860,'<rect x="-9" y="-8" width="18" height="17" rx="2"/><path d="M-9-3H9M-5-11v5M5-11v5"/>');
I(1058,908,'<path d="M-8 9v-1M-8 3a6 6 0 0 1 6 6M-8-3A12 12 0 0 1 4 9"/>',1.3);
B(1047,888,30,16,'background:#f23645;border-radius:8px'); T(1062,896,'99+','font-size:10.5px;color:#fff');
I(1058,953,'<path d="M-8 6C-6 3-6 0-6-2a6 6 0 0 1 12 0c0 2 0 5 2 8zM-2 6a2 2 0 0 0 4 0"/>');
B(1054,934,22,16,'background:#f23645;border-radius:8px'); T(1065,942,'57','font-size:10.5px;color:#fff');
add('<svg width="34" height="34" viewBox="-17 -17 34 34" style="left:1041px;top:982px"><circle r="16.5" fill="#1e1e1e"/><g fill="#fff"><circle cx="-6" cy="-6" r="2.3"/><circle cy="-6" r="2.3"/><circle cx="6" cy="-6" r="2.3"/><circle cx="-6" r="2.3"/><circle r="2.3"/><circle cx="6" r="2.3"/><circle cx="-6" cy="6" r="2.3"/><circle cy="6" r="2.3"/><circle cx="6" cy="6" r="2.3"/></g></svg>');
I(1058,1056,'<circle r="13"/>');
T(1058,1056,'?','font-size:15px;color:#222');

// bottom bar
[['1D',79],['5D',109],['1M',140],['3M',172],['6M',204],['YTD',239],['1Y',272],['5Y',300],['All',328]].forEach(a=>T(a[1],1061,a[0],'font-size:13.5px;color:#2a2e39'));
B(351,1051,1,20,'background:#ddd');
I(371,1061,'<rect x="-8" y="-7" width="16" height="15" rx="1"/><path d="M-8-3H8M-4-10v4M4-10v4M-4 3H3M1 1l2 2-2 2"/>');
T(923,1061,'13:20:25 UTC+8','font-size:13.5px;color:#2a2e39');
B(983,1051,1,20,'background:#ddd');
T(1008,1061,'ADJ','font-size:13.5px;color:#2a2e39');
</script>
</body></html>
